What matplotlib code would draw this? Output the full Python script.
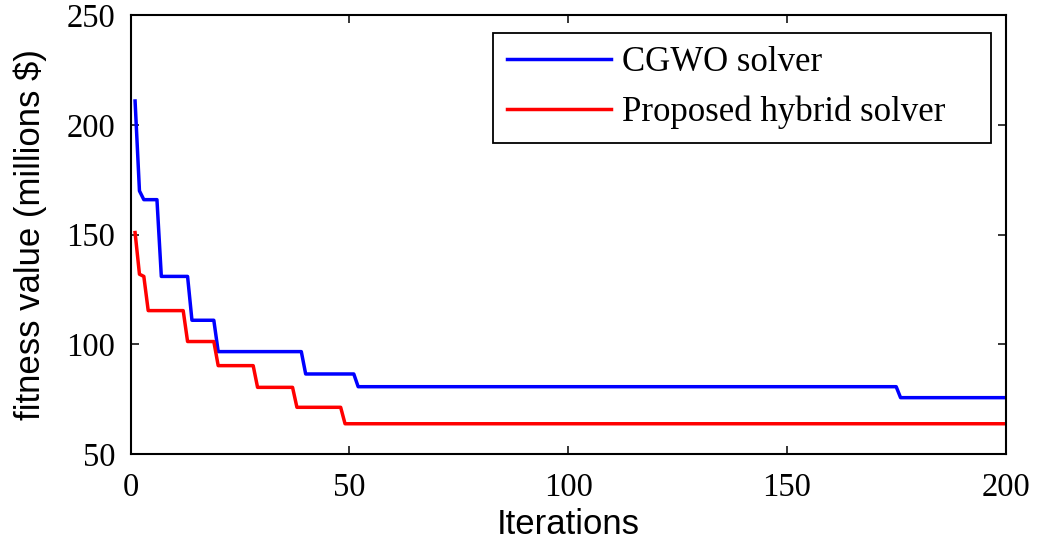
import numpy as np
import matplotlib
matplotlib.use("Agg")
import matplotlib.pyplot as plt

# convergence data, as (first iteration, best fitness) step points
cgwo_start = [1, 2, 3, 7, 14, 20, 40, 52, 176]
cgwo_value = [211, 170, 166, 131, 111, 96.7, 86.5, 80.7, 75.7]

hybrid_start = [1, 2, 3, 4, 13, 20, 29, 38, 49]
hybrid_value = [151, 132, 131, 115.4, 101.3, 90.3, 80.4, 71.3, 63.8]

n_iter = 200
labels = ["CGWO solver", "Proposed hybrid solver"]


def expand(starts, values, n):
    # turn step points into one value per iteration
    ends = starts[1:] + [n + 1]
    out = []
    for s, e, v in zip(starts, ends, values):
        out += [v] * (e - s)
    return np.array(out)


it = np.arange(1, n_iter + 1)
cgwo = expand(cgwo_start, cgwo_value, n_iter)
hybrid = expand(hybrid_start, hybrid_value, n_iter)

serif = ["Liberation Serif", "DejaVu Serif"]
sans = ["Liberation Sans", "DejaVu Sans"]

fig = plt.figure(figsize=(10.39, 5.47), dpi=100)
ax = fig.add_axes([0.1258, 0.170, 0.842, 0.8017])

ax.plot(it, cgwo, color="#0000ff", lw=2.5, label=labels[0])
ax.plot(it, hybrid, color="#ff0000", lw=2.5, label=labels[1])

ax.set_xlim(0, 200)
ax.set_ylim(50, 250)
ax.set_xticks([0, 50, 100, 150, 200])
ax.set_yticks([50, 100, 150, 200, 250])
ax.tick_params(direction="in", length=6, width=1.1, top=True, right=True)
ax.tick_params(axis="x", pad=13)
ax.tick_params(axis="y", pad=11)
for lab in ax.get_xticklabels() + ax.get_yticklabels():
    lab.set_family(serif)
    lab.set_fontsize(23.5)
for sp in ax.spines.values():
    sp.set_linewidth(1.5)

ax.set_xlabel("Iterations", family=sans, fontsize=25, labelpad=4)
ax.set_ylabel("fitness value (millions $)", family=sans, fontsize=25, labelpad=14)

# legend box stretched to the width it has in the original
leg = ax.legend(loc="upper left", bbox_to_anchor=(0.4138, 0.5, 0.5693, 0.461),
                mode="expand", borderaxespad=0,
                prop={"family": serif, "size": 25}, fancybox=False, framealpha=1,
                edgecolor="black", handlelength=3.0, handletextpad=0.33,
                labelspacing=0.46, borderpad=0.4)
leg.get_frame().set_linewidth(1.3)

fig.savefig("out.png", dpi=100)
